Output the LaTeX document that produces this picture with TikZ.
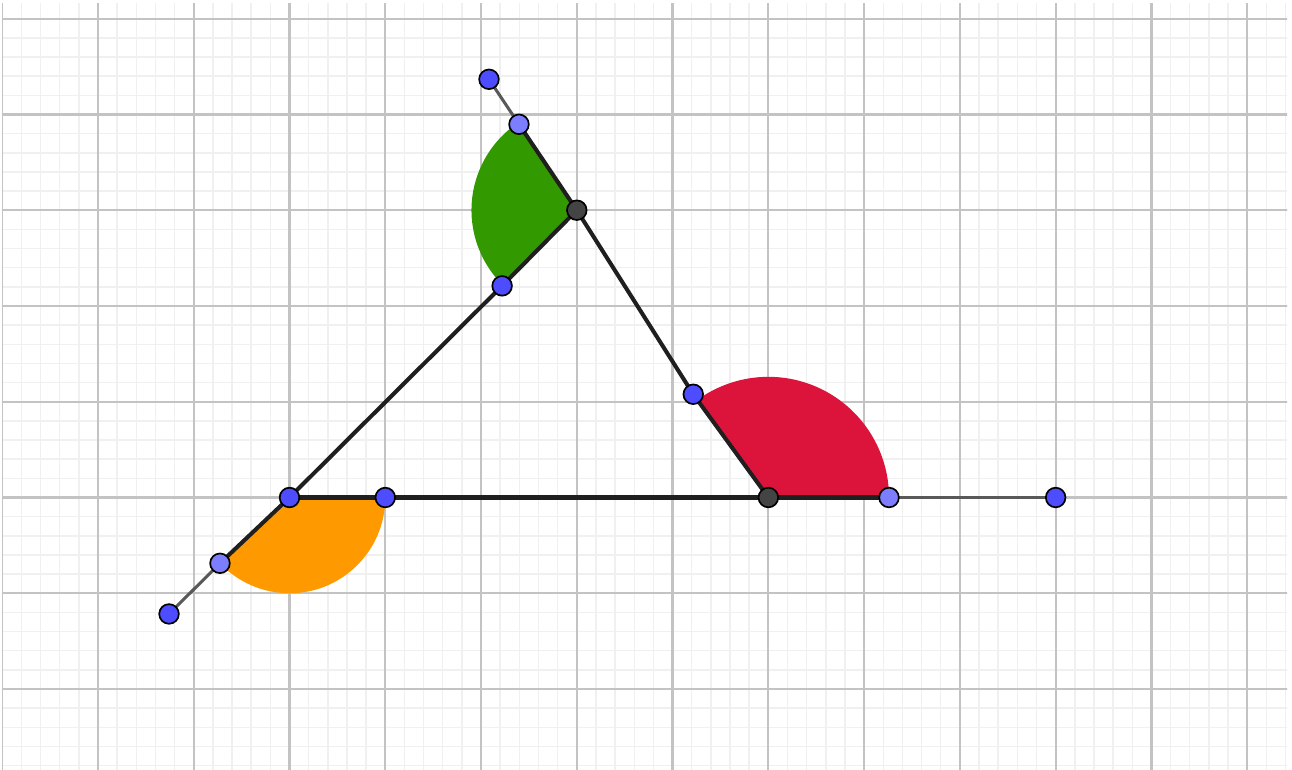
\documentclass[tikz,border=0pt]{standalone}
\definecolor{gmajor}{RGB}{195,195,195}
\definecolor{gminor}{RGB}{240,240,240}
\definecolor{ptblue}{RGB}{77,77,255}
\definecolor{ptlight}{RGB}{125,125,255}
\definecolor{ptdark}{RGB}{68,68,68}
\definecolor{sgreen}{RGB}{51,153,0}
\definecolor{sred}{RGB}{220,20,60}
\definecolor{sorange}{RGB}{255,153,0}
\begin{document}
\begin{tikzpicture}[
  pt/.style={circle, draw=black, line width=0.5pt, inner sep=0pt, minimum size=0.205cm},
  bluept/.style={pt, fill=ptblue},
  lightpt/.style={pt, fill=ptlight},
  darkpt/.style={pt, fill=ptdark},
  edgeline/.style={line width=1.2pt, black!88},
  extline/.style={line width=0.9pt, black!65},
]
\useasboundingbox (-3.023,-2.835) rectangle (10.468,5.195);
\fill[white] (-3.023,-2.835) rectangle (10.468,5.195);
\begin{scope}
\clip (-3.002,-2.835) rectangle (10.416,5.163);
\draw[gminor, line width=0.45pt, step=0.2] (-3.2,-3) grid (10.6,5.4);
\draw[gmajor, line width=0.65pt, step=1] (-4,-3) grid (11,6);
\end{scope}
% positions
\coordinate (A) at (0,0);
\coordinate (B) at (5,0);
\coordinate (C) at (3,3);
\coordinate (A1) at (1,0);
\coordinate (A2) at (-0.726,-0.687);
\coordinate (E1) at (-1.258,-1.216);
\coordinate (B2) at (6.26,0);
\coordinate (E3) at (8,0);
\coordinate (P1) at (2.083,4.367);
\coordinate (P2) at (2.396,3.897);
\coordinate (P3) at (2.22,2.21);
\coordinate (P4) at (4.216,1.078);
% sectors
\fill[sorange] (A) -- (A1) arc[start angle=0, end angle=-136.6, radius=1] -- cycle;
\fill[sred] (B) -- (B2) arc[start angle=0, end angle=126.3, radius=1.26] -- cycle;
\fill[sgreen] (C) -- ++(124.1:1.1) arc[start angle=124.1, end angle=225, radius=1.1] -- cycle;
% lines
\draw[extline] (E1) -- (A2);
\draw[extline] (P1) -- (P2);
\draw[extline] (B2) -- (E3);
\draw[edgeline] (A2) -- (A);
\draw[edgeline] (A) -- (B);
\draw[edgeline] (B) -- (B2);
\draw[edgeline] (B) -- (P4);
\draw[edgeline] (P4) -- (C);
\draw[edgeline] (C) -- (P2);
\draw[edgeline] (C) -- (P3);
\draw[edgeline] (P3) -- (A);
% points
\node[bluept] (nA) at (A) {};
\node[bluept] (nA1) at (A1) {};
\node[lightpt] (nA2) at (A2) {};
\node[bluept] (nE1) at (E1) {};
\node[darkpt] (nB) at (B) {};
\node[lightpt] (nB2) at (B2) {};
\node[bluept] (nE3) at (E3) {};
\node[darkpt] (nC) at (C) {};
\node[bluept] (nP1) at (P1) {};
\node[lightpt] (nP2) at (P2) {};
\node[bluept] (nP3) at (P3) {};
\node[bluept] (nP4) at (P4) {};
\end{tikzpicture}
\end{document}
